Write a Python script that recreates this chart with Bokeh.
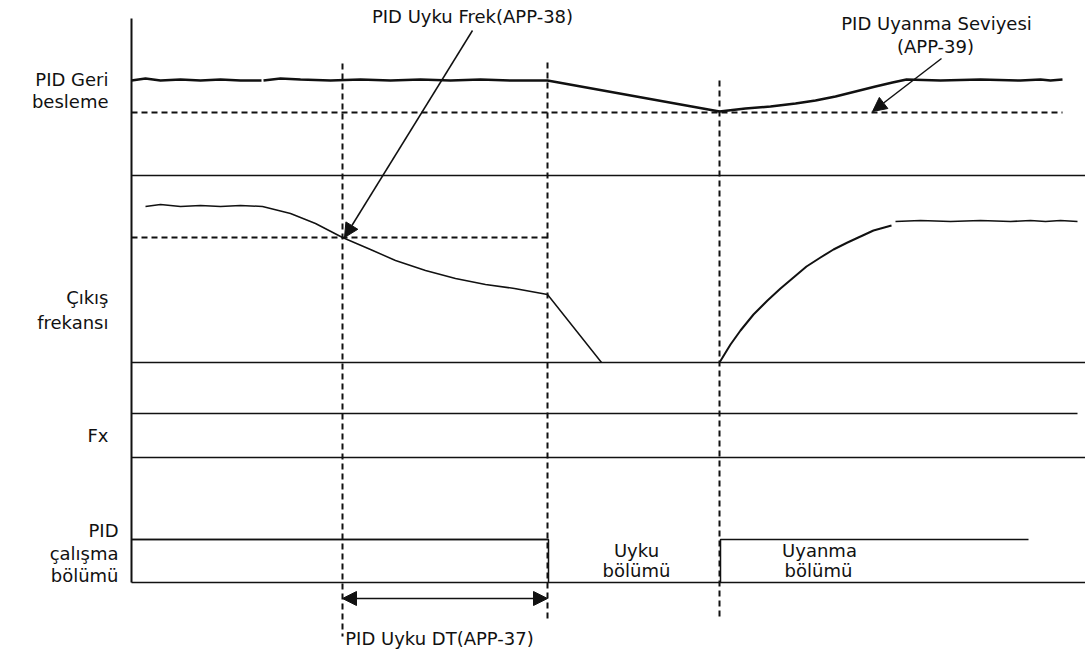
from bokeh.plotting import figure
from bokeh.models import Range1d, Arrow, NormalHead
from bokeh.core.properties import value
from bokeh.embed import file_html
from bokeh.resources import INLINE

# ---- data (in diagram units = reference pixels) ----
axis_x = [131, 131]
axis_y = [18, 582]

# PID feedback signal
fb1_x = [131, 145, 160, 180, 200, 220, 240, 261]
fb1_y = [80, 78, 80, 79, 80, 79, 80, 80]
fb2_x = [263, 280, 300, 330, 360, 390, 420, 450, 480, 510, 547, 719, 745, 770, 795, 815, 835, 855, 875, 892, 906,
         940, 980, 1020, 1040, 1050, 1062]
fb2_y = [80, 78, 79, 80, 79, 80, 79, 80, 79, 80, 80, 111, 108, 106, 103, 100, 96, 91, 86, 82, 79,
         80, 79, 80, 79, 80, 79]

# Output frequency signal
fq1_x = [145, 160, 180, 200, 220, 240, 262, 290, 315, 342, 370, 395, 425, 455, 485, 514, 547, 601]
fq1_y = [206, 204, 206, 205, 206, 205, 206, 213, 223, 237, 249, 260, 270, 278, 284, 288, 294, 362]
fq2_x = [719, 730, 740, 753, 767, 780, 793, 806, 820, 833, 847, 860, 873, 891]
fq2_y = [362, 344, 330, 314, 300, 288, 277, 266, 257, 249, 242, 236, 230, 225]
fq3_x = [895, 920, 950, 980, 1010, 1030, 1045, 1060, 1077]
fq3_y = [221, 220, 221, 220, 221, 220, 221, 220, 221]

# Solid level lines: (x0, x1, y)
lvl_x0 = [131, 131, 131, 131, 131, 131]
lvl_x1 = [1085, 1085, 1077, 1085, 548, 1085]
lvl_y = [175, 362, 413, 457, 539, 582]

# PID operation section pulses
pid_x = [131, 548, 548]
pid_y = [539, 539, 582]
wake_x = [720, 720, 1028]
wake_y = [582, 539, 539]

# Dashed thresholds
thr_x0 = [131, 131]
thr_x1 = [1062, 547]
thr_y = [112, 237]

# Event times (dashed verticals)
ev_x = [342, 547, 719]
ev_y0 = [63, 62, 80]
ev_y1 = [636, 620, 620]

# Labels
lab_left = ["PID Geri", "besleme", "Çıkış", "frekansı", "Fx"]
lab_left_x = [108, 108, 108, 108, 108]
lab_left_y = [79, 101, 297, 322, 435]
lab_pid = ["PID", "çalışma", "bölümü"]
lab_pid_x = [118, 118, 118]
lab_pid_y = [530, 553, 575]
lab_mid = ["PID Uyku Frek(APP-38)", "PID Uyanma Seviyesi", "(APP-39)",
           "Uyku", "bölümü", "Uyanma", "bölümü", "PID Uyku DT(APP-37)"]
lab_mid_x = [472, 936, 935, 636, 636, 819, 818, 439]
lab_mid_y = [16, 23, 46, 550, 570, 550, 570, 638]

INK = "#111111"
FONT = value("DejaVu Sans")

p = figure(width=1085, height=650, x_range=Range1d(0, 1085), y_range=Range1d(650, 0),
           output_backend="svg", toolbar_location=None, min_border=0)
p.axis.visible = False
p.grid.visible = False
p.outline_line_color = None
p.background_fill_color = "white"
p.border_fill_color = "white"

# axis line
p.line(axis_x, axis_y, line_color=INK, line_width=2)

# level lines
p.segment(x0=lvl_x0, y0=lvl_y, x1=lvl_x1, y1=lvl_y, line_color=INK, line_width=1.5)
p.line(pid_x, pid_y, line_color=INK, line_width=1.5)
p.line(wake_x, wake_y, line_color=INK, line_width=1.5)

# dashed
p.segment(x0=thr_x0, y0=thr_y, x1=thr_x1, y1=thr_y, line_color=INK, line_width=2, line_dash="6 4")
p.segment(x0=ev_x, y0=ev_y0, x1=ev_x, y1=ev_y1, line_color=INK, line_width=2, line_dash="6 4")

# signals
p.line(fb1_x, fb1_y, line_color=INK, line_width=2.5)
p.line(fb2_x, fb2_y, line_color=INK, line_width=2.5)
p.line(fq1_x, fq1_y, line_color=INK, line_width=1.5)
p.line(fq2_x, fq2_y, line_color=INK, line_width=2)
p.line(fq3_x, fq3_y, line_color=INK, line_width=1.5)

# arrows
p.add_layout(Arrow(end=NormalHead(size=14, fill_color=INK, line_color=INK),
                   x_start=472, y_start=30, x_end=ev_x[0] + 2, y_end=thr_y[1],
                   line_color=INK, line_width=1.5))
p.add_layout(Arrow(end=NormalHead(size=14, fill_color=INK, line_color=INK),
                   x_start=941, y_start=58, x_end=872, y_end=thr_y[0] - 1,
                   line_color=INK, line_width=1.5))
p.add_layout(Arrow(start=NormalHead(size=14, fill_color=INK, line_color=INK),
                   end=NormalHead(size=14, fill_color=INK, line_color=INK),
                   x_start=ev_x[0], y_start=598, x_end=ev_x[1], y_end=598,
                   line_color=INK, line_width=1.5))

# texts
p.text(x=lab_left_x, y=lab_left_y, text=lab_left, text_font=FONT, text_font_size="18px",
       text_align="right", text_baseline="middle", text_color=INK)
p.text(x=lab_pid_x, y=lab_pid_y, text=lab_pid, text_font=FONT, text_font_size="18px",
       text_align="right", text_baseline="middle", text_color=INK)
p.text(x=lab_mid_x, y=lab_mid_y, text=lab_mid, text_font=FONT, text_font_size="18px",
       text_align="center", text_baseline="middle", text_color=INK)

open("out.html", "w").write(file_html(p, INLINE))
